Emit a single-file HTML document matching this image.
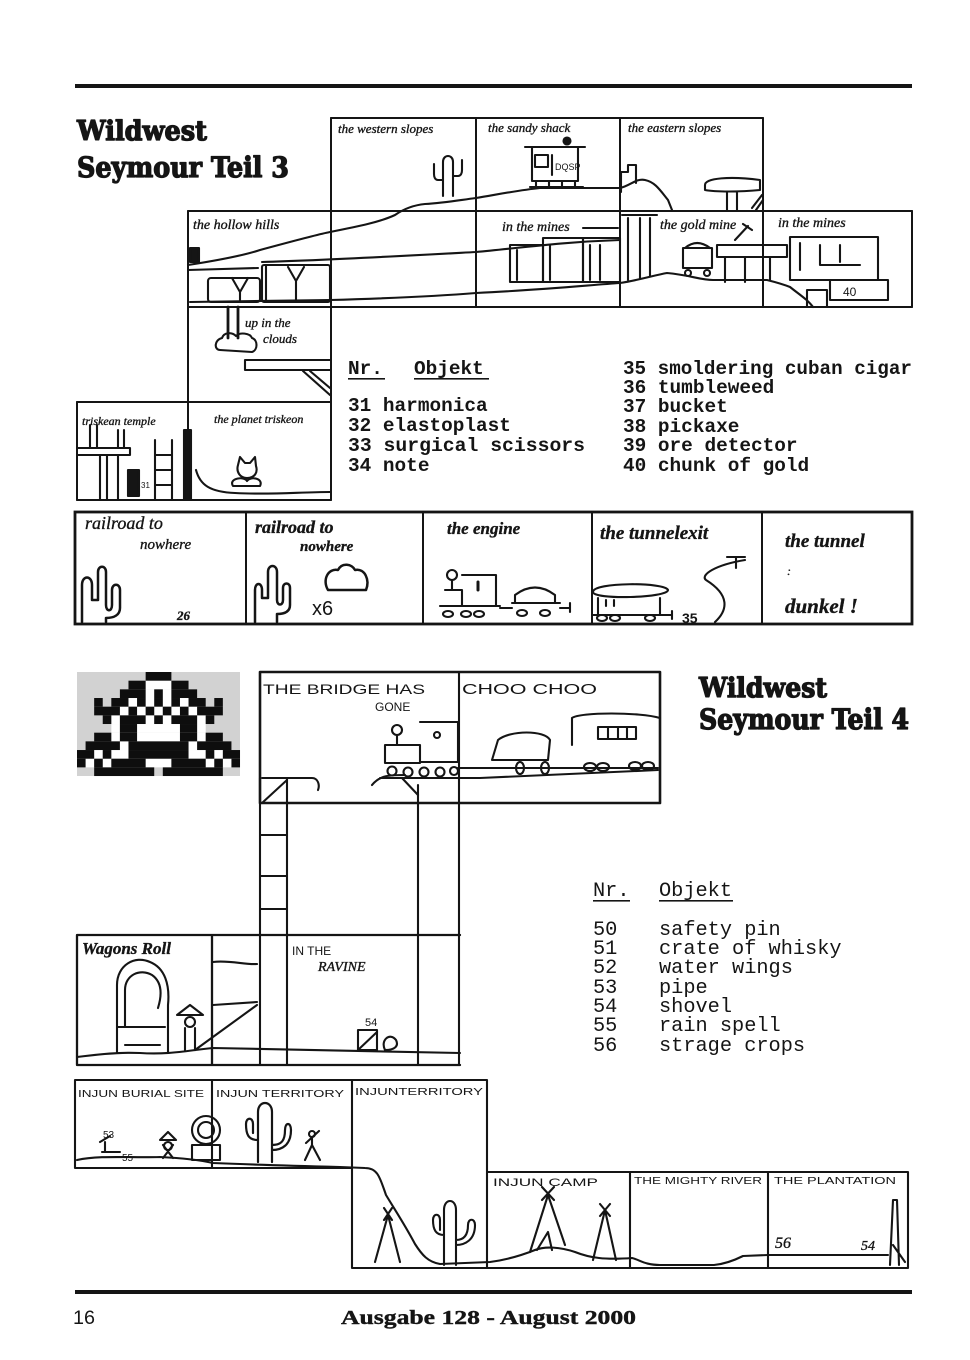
<!DOCTYPE html>
<html><head><meta charset="utf-8"><style>
html,body{margin:0;padding:0;background:#fff;}
svg{display:block;}
.h{font-family:"Liberation Serif",serif;font-style:italic;fill:#151515;stroke:#151515;stroke-width:0.35;}
.u{font-family:"Liberation Sans",sans-serif;fill:#151515;}
.m3{font-family:"Liberation Mono",monospace;font-weight:bold;font-size:19.4px;fill:#151515;}
.m4{font-family:"Liberation Mono",monospace;font-size:20.3px;fill:#151515;}
.t{font-family:"DejaVu Serif","Liberation Serif",serif;font-weight:bold;fill:#151515;stroke:#151515;stroke-width:1.3;stroke-linejoin:round;}
</style></head><body>
<svg width="970" height="1360" viewBox="0 0 970 1360" xmlns="http://www.w3.org/2000/svg">
<rect width="970" height="1360" fill="#fff"/>
<rect x="75" y="84" width="837" height="4" fill="#151515"/>
<rect x="75" y="1290" width="837" height="4" fill="#151515"/>

<text x="77" y="140" class="t" font-size="27" textLength="130" lengthAdjust="spacingAndGlyphs">Wildwest</text>
<text x="77" y="177" class="t" font-size="28" textLength="212" lengthAdjust="spacingAndGlyphs">Seymour Teil 3</text>
<text x="699" y="697" class="t" font-size="27" textLength="128" lengthAdjust="spacingAndGlyphs">Wildwest</text>
<text x="699" y="729" class="t" font-size="28" textLength="210" lengthAdjust="spacingAndGlyphs">Seymour Teil 4</text>

<text x="73" y="1324" class="u" font-size="19.5" textLength="22" lengthAdjust="spacingAndGlyphs">16</text>
<text x="341" y="1324" font-family="Liberation Serif,serif" font-weight="bold" font-size="20" fill="#151515" stroke="#151515" stroke-width="0.4" textLength="295" lengthAdjust="spacingAndGlyphs">Ausgabe 128 - August 2000</text>

<!-- Teil 3 list -->
<text x="348" y="374" class="m3">Nr.</text>
<text x="414" y="374" class="m3">Objekt</text>
<rect x="348" y="378" width="37" height="1.6" fill="#151515"/>
<rect x="414" y="378" width="75" height="1.6" fill="#151515"/>
<text x="348" y="411" class="m3">31 harmonica</text>
<text x="348" y="431" class="m3">32 elastoplast</text>
<text x="348" y="451" class="m3" textLength="237" lengthAdjust="spacingAndGlyphs">33 surgical scissors</text>
<text x="348" y="471" class="m3">34 note</text>
<text x="623" y="374" class="m3" textLength="289" lengthAdjust="spacingAndGlyphs">35 smoldering cuban cigar</text>
<text x="623" y="393" class="m3">36 tumbleweed</text>
<text x="623" y="412" class="m3">37 bucket</text>
<text x="623" y="432" class="m3">38 pickaxe</text>
<text x="623" y="451" class="m3">39 ore detector</text>
<text x="623" y="471" class="m3">40 chunk of gold</text>

<!-- Teil 4 list -->
<text x="593" y="896" class="m4">Nr.</text>
<text x="659" y="896" class="m4">Objekt</text>
<rect x="593" y="900" width="37" height="1.6" fill="#151515"/>
<rect x="659" y="900" width="74" height="1.6" fill="#151515"/>
<text x="593" y="935" class="m4">50</text><text x="659" y="935" class="m4">safety pin</text>
<text x="593" y="954" class="m4">51</text><text x="659" y="954" class="m4">crate of whisky</text>
<text x="593" y="973" class="m4">52</text><text x="659" y="973" class="m4">water wings</text>
<text x="593" y="993" class="m4">53</text><text x="659" y="993" class="m4">pipe</text>
<text x="593" y="1012" class="m4">54</text><text x="659" y="1012" class="m4">shovel</text>
<text x="593" y="1031" class="m4">55</text><text x="659" y="1031" class="m4">rain spell</text>
<text x="593" y="1051" class="m4">56</text><text x="659" y="1051" class="m4">strage crops</text>

<!-- ===== Teil 3 grid ===== -->
<g stroke="#151515" stroke-width="2" fill="none" stroke-linecap="round">
<path d="M331,118 H763 M188,211 H912 M188,307 H912 M77,402 H331 M77,500 H331"/>
<path d="M331,118 V500 M476,118 V307 M620,118 V307 M763,118 V307 M912,211 V307 M188,211 V500 M77,402 V500"/>
<rect x="75" y="512" width="837" height="112" stroke-width="2.8"/>
<path d="M246,512 V624 M423,512 V624 M592,512 V624 M762,512 V624"/>
</g>

<!-- Teil 3 drawings -->
<g stroke="#151515" stroke-width="2.1" fill="none" stroke-linecap="round" stroke-linejoin="round">
<path d="M443,196 V162 C443,154 453,154 453,162 V196 M443,180 H438 C435,180 434,177 434,174 V164 M453,176 H458 C461,176 462,173 462,170 V160"/>
<path d="M188,265 C220,260 245,255 260,250 C290,242 315,235 330,232 C360,226 380,222 395,215 C405,208 415,205 425,204 C445,203 460,200 476,198 C500,194 520,190 540,188 L620,188 C630,186 636,178 645,180 C655,182 660,190 668,200 L672,210"/>
<path d="M525,147 H585 M532,148 V181 H578 V148 M535,155 H548 V167 H535 Z M552,155 V175 M530,187 H583 M536,181 V187 M549,181 V187 M562,181 V187 M575,181 V187"/>
<circle cx="567" cy="141" r="3.5" fill="#151515"/>
<text x="555" y="170" class="u" font-size="9" stroke="none">DQSP</text>
<path d="M621,192 V172 H628 V165 H636 V183 M705,185 C705,178 730,176 760,180 L760,190 C740,192 715,192 705,190 Z M727,192 V210 M737,192 V210 M752,208 L762,195 M756,210 L763,200"/>
<path d="M188,270 L258,268 M262,262 C330,260 420,255 476,252 C520,248 560,242 620,240"/>
<path d="M190,302 L330,300 C400,298 440,296 476,293 C540,290 590,285 620,283 C640,280 655,275 667,273 C690,275 700,280 713,280 L767,280 C775,282 785,285 790,287 C800,295 808,300 813,307"/>
<rect x="208" y="278" width="52" height="24" rx="3"/>
<rect x="262" y="265" width="68" height="37" rx="2"/>
<path d="M232,278 L240,292 L248,278 M240,292 V300 M288,267 L296,281 L304,267 M296,281 V300 M266,265 V302"/>
<rect x="190" y="248" width="9" height="14" fill="#151515"/>
<rect x="510" y="245" width="33" height="37"/>
<rect x="543" y="238" width="40" height="44"/>
<rect x="583" y="238" width="37" height="44"/>
<path d="M517,250 V280 M550,245 V280 M590,245 V280 M600,245 V280 M583,228 H618"/>
<path d="M622,215 H657 M628,218 V280 M640,218 V278 M650,218 V276 M683,248 H712 V268 H683 Z M685,248 Q697,238 710,248 M717,245 H787 V257 H717 Z M725,257 V282 M745,257 V282 M770,257 V280 M735,240 L748,226 M743,224 L752,230"/>
<circle cx="688" cy="273" r="3"/><circle cx="707" cy="273" r="3"/>
<rect x="790" y="237" width="88" height="43"/>
<path d="M800,243 V270 M820,245 V265 H860 M840,245 V262"/>
<rect x="830" y="280" width="58" height="20"/>
<rect x="807" y="290" width="20" height="17"/>
<path d="M228,307 V338 M238,307 V338" stroke-width="2.8"/>
<path d="M220,350 C214,350 214,340 222,338 C224,332 232,332 236,336 C240,332 250,333 252,338 C258,340 258,350 252,352 Z"/>
<path d="M245,360 H330 M245,360 V370 H330 M303,371 L330,395 M310,371 L330,388"/>
<path d="M77,448 H130 V455 M77,455 H130 M100,455 V500 M107,455 V500 M118,455 V500 M90,425 V448 M97,425 V448 M118,430 V448 M124,430 V448 M155,440 V500 M172,440 V500 M155,455 H172 M155,470 H172 M155,485 H172"/>
<rect x="128" y="470" width="11" height="26" fill="#151515"/>
<rect x="184" y="430" width="7" height="70" fill="#151515"/>
<path d="M238,465 L240,457 L245,463 L250,463 L255,457 L256,466 C258,472 255,478 247,478 C240,478 236,472 238,465 Z M233,486 C228,478 245,476 247,481 C250,476 264,478 260,486 Z"/>
<path d="M196,470 C200,485 210,492 235,493 C270,495 300,492 330,492"/>
<path d="M82,622 L82,585 C82,575 92,575 92,585 L92,600 L98,600 L98,572 C98,565 106,565 106,572 L106,605 C106,612 112,612 112,605 L112,590 C112,583 120,583 120,590 L120,608 C120,615 114,618 106,618 L106,622" stroke-width="2.5"/>
<path d="M255,622 L255,590 C255,582 262,582 262,590 L262,598 L268,598 L268,572 C268,564 277,564 277,572 L277,600 C277,606 283,606 283,600 L283,588 C283,582 290,582 290,588 L290,605 C290,612 284,614 277,614 L277,622" stroke-width="2.5"/>
<path d="M328,590 C322,580 328,568 338,570 C342,562 352,564 355,570 C365,568 370,580 366,590 Z" stroke-width="2.5"/>
<circle cx="452" cy="575" r="5"/>
<path d="M452,580 V590 M445,590 H462 V605 M462,575 H496 V605 M440,606 H500 M500,608 H512 M512,603 H560 M515,603 V595 Q535,580 555,595 V603 M560,608 H570 M570,603 V612"/>
<path d="M478,582 V590" stroke-width="3"/>
<ellipse cx="448" cy="614" rx="5" ry="3"/><ellipse cx="466" cy="614" rx="5" ry="3"/><ellipse cx="479" cy="614" rx="5" ry="3"/>
<ellipse cx="522" cy="613" rx="5" ry="3"/><ellipse cx="545" cy="613" rx="5" ry="3"/>
<path d="M593,592 C593,582 665,582 668,590 C668,598 593,600 593,592 Z M598,598 V615 M660,598 V615 M592,615 H672 M672,611 V619 M606,600 V606 M614,600 V606 M745,560 C715,565 700,575 706,580 C730,595 728,610 715,622 M727,557 H745 M736,557 V568"/>
<ellipse cx="602" cy="618" rx="5" ry="3"/><ellipse cx="615" cy="618" rx="5" ry="3"/><ellipse cx="650" cy="618" rx="5" ry="3"/>
</g>

<!-- Teil 3 labels -->
<g>
<text x="338" y="133" font-size="13" class="h">the western slopes</text>
<text x="488" y="132" font-size="13" class="h">the sandy shack</text>
<text x="628" y="132" font-size="13" class="h">the eastern slopes</text>
<text x="193" y="229" font-size="14" class="h">the hollow hills</text>
<text x="502" y="231" font-size="14" class="h">in the mines</text>
<text x="660" y="229" font-size="14" class="h">the gold mine</text>
<text x="778" y="227" font-size="14" class="h">in the mines</text>
<text x="245" y="327" font-size="13" class="h">up in the</text>
<text x="263" y="343" font-size="13" class="h">clouds</text>
<text x="82" y="425" font-size="12" class="h">triskean temple</text>
<text x="214" y="423" font-size="12" class="h">the planet triskeon</text>
<text x="85" y="529" font-size="18" class="h">railroad to</text>
<text x="140" y="549" font-size="15" class="h">nowhere</text>
<text x="255" y="533" font-size="18" class="h" font-weight="bold">railroad to</text>
<text x="300" y="551" font-size="15" class="h" font-weight="bold">nowhere</text>
<text x="447" y="534" font-size="17" class="h" font-weight="bold">the engine</text>
<text x="600" y="539" font-size="19" class="h" font-weight="bold">the tunnelexit</text>
<text x="785" y="547" font-size="19" class="h" font-weight="bold">the tunnel</text>
<text x="787" y="575" font-size="12" class="h">:</text>
<text x="785" y="613" font-size="21" class="h" font-weight="bold">dunkel !</text>
<text x="177" y="620" font-size="13" class="h" font-weight="bold">26</text>
<text x="312" y="615" font-size="20" class="u">x6</text>
<text x="682" y="623" font-size="14" class="u" font-weight="bold">35</text>
<text x="843" y="296" font-size="12" class="u">40</text>
<text x="141" y="488" font-size="8" class="u">31</text>
</g>

<!-- ===== Teil 4 ===== -->
<rect x="77" y="672" width="163" height="104" fill="#d2d2d2"/>
<g transform="translate(77,672) scale(8.58,8.67)">
<g fill="#fff">
<rect x="8" y="1" width="3" height="1"/>
<rect x="8" y="2" width="1" height="1"/><rect x="10" y="2" width="1" height="1"/>
<rect x="6" y="3" width="1" height="1"/><rect x="8" y="3" width="1" height="1"/><rect x="10" y="3" width="1" height="1"/><rect x="12" y="3" width="1" height="1"/>
<rect x="5" y="4" width="1" height="1"/><rect x="7" y="4" width="1" height="1"/><rect x="9" y="4" width="1" height="1"/><rect x="11" y="4" width="1" height="1"/><rect x="13" y="4" width="1" height="1"/>
<rect x="4" y="5" width="1" height="1"/><rect x="8" y="5" width="1" height="1"/><rect x="10" y="5" width="1" height="1"/><rect x="14" y="5" width="1" height="1"/>
<rect x="4" y="6" width="1" height="1"/><rect x="7" y="6" width="5" height="1"/><rect x="14" y="6" width="1" height="1"/>
<rect x="4" y="7" width="1" height="1"/><rect x="7" y="7" width="5" height="1"/><rect x="14" y="7" width="1" height="1"/>
<rect x="5" y="8" width="1" height="1"/><rect x="13" y="8" width="1" height="1"/>
<rect x="2" y="9" width="1" height="1"/><rect x="4" y="9" width="2" height="1"/><rect x="13" y="9" width="2" height="1"/><rect x="16" y="9" width="1" height="1"/>
<rect x="1" y="10" width="1" height="1"/><rect x="3" y="10" width="1" height="1"/><rect x="8" y="10" width="3" height="1"/><rect x="15" y="10" width="1" height="1"/><rect x="17" y="10" width="1" height="1"/>
</g>
<g fill="#0e0e0e">
<rect x="8" y="0" width="3" height="1"/>
<rect x="6" y="1" width="2" height="1"/><rect x="11" y="1" width="2" height="1"/>
<rect x="5" y="2" width="3" height="1"/><rect x="9" y="2" width="1" height="1"/><rect x="11" y="2" width="3" height="1"/>
<rect x="2" y="3" width="1" height="1"/><rect x="4" y="3" width="2" height="1"/><rect x="7" y="3" width="1" height="1"/><rect x="9" y="3" width="1" height="1"/><rect x="11" y="3" width="1" height="1"/><rect x="13" y="3" width="2" height="1"/><rect x="16" y="3" width="1" height="1"/>
<rect x="2" y="4" width="3" height="1"/><rect x="6" y="4" width="1" height="1"/><rect x="8" y="4" width="1" height="1"/><rect x="10" y="4" width="1" height="1"/><rect x="12" y="4" width="1" height="1"/><rect x="14" y="4" width="3" height="1"/>
<rect x="3" y="5" width="1" height="1"/><rect x="5" y="5" width="3" height="1"/><rect x="9" y="5" width="1" height="1"/><rect x="11" y="5" width="3" height="1"/><rect x="15" y="5" width="1" height="1"/>
<rect x="5" y="6" width="2" height="1"/><rect x="12" y="6" width="2" height="1"/>
<rect x="2" y="7" width="2" height="1"/><rect x="5" y="7" width="2" height="1"/><rect x="12" y="7" width="2" height="1"/><rect x="15" y="7" width="2" height="1"/>
<rect x="1" y="8" width="4" height="1"/><rect x="6" y="8" width="7" height="1"/><rect x="14" y="8" width="4" height="1"/>
<rect x="0" y="9" width="2" height="1"/><rect x="3" y="9" width="1" height="1"/><rect x="6" y="9" width="7" height="1"/><rect x="15" y="9" width="1" height="1"/><rect x="17" y="9" width="2" height="1"/>
<rect x="0" y="10" width="1" height="1"/><rect x="2" y="10" width="1" height="1"/><rect x="4" y="10" width="4" height="1"/><rect x="11" y="10" width="4" height="1"/><rect x="16" y="10" width="1" height="1"/><rect x="18" y="10" width="1" height="1"/>
<rect x="2" y="11" width="7" height="1"/><rect x="10" y="11" width="7" height="1"/>
</g>
</g>

<g stroke="#151515" stroke-width="2.1" fill="none" stroke-linecap="round" stroke-linejoin="round">
<rect x="260" y="672" width="400" height="131" stroke-width="2.6"/>
<path d="M459,672 V1065 M418,785 V1065 M260,778 V1065 M287,778 V1065 M260,835 H287 M260,876 H287 M260,909 H287"/>
<path d="M77,935 H460 M77,935 V1065 H460 M212,935 V1065" stroke-width="2.3"/>
<path d="M262,778 H312 C318,778 320,785 318,790 M262,803 L287,780"/>
<circle cx="397" cy="730" r="5"/>
<path d="M397,735 V745 M385,745 H420 V763 H385 Z M420,722 H458 V762 H420 M380,778 H480 L658,770 M492,760 L498,740 C510,730 545,730 550,740 L548,760 Z M572,718 C580,712 640,712 660,718 M572,718 V745 M598,727 H636 V739 H598 Z M608,727 V739 M618,727 V739 M627,727 V739 M372,785 C380,775 390,775 405,775 M402,778 L418,795 M458,768 H658"/>
<circle cx="437" cy="735" r="3"/>
<circle cx="392" cy="771" r="4.5"/><circle cx="408" cy="772" r="4.5"/><circle cx="424" cy="772" r="4.5"/><circle cx="440" cy="772" r="4.5"/><circle cx="454" cy="771" r="4"/>
<ellipse cx="520" cy="768" rx="4" ry="6"/><ellipse cx="545" cy="768" rx="4" ry="6"/><ellipse cx="590" cy="767" rx="6" ry="4"/><ellipse cx="603" cy="767" rx="6" ry="4"/><ellipse cx="635" cy="766" rx="6" ry="4"/><ellipse cx="648" cy="766" rx="6" ry="4"/>
<path d="M117,1053 V985 C117,965 135,955 150,962 C165,968 170,985 168,1005 V1053 M125,1027 V990 C125,975 140,968 152,975 C162,982 162,995 158,1008 M117,1027 H165 M125,1045 H160"/>
<path d="M177,1015 L190,1005 L203,1015 Z M185,1028 V1050 M195,1028 V1050"/>
<circle cx="190" cy="1022" r="5"/>
<path d="M195,1050 L257,1005 M213,1005 L257,1002 M213,962 C230,960 245,965 257,964"/>
<rect x="358" y="1030" width="19" height="20"/>
<path d="M358,1050 L377,1032 M385,1050 C380,1040 390,1032 396,1040 C399,1046 395,1050 385,1050 Z"/>
<path d="M77,1057 C100,1054 120,1052 140,1053 C170,1055 190,1050 213,1048 L460,1053"/>
<path d="M75,1080 H487 M75,1080 V1168 M212,1080 V1168 M352,1080 V1268 M487,1080 V1268 M75,1168 H352 M487,1172 H908 M630,1172 V1268 M768,1172 V1268 M908,1172 V1268 M352,1268 H908"/>
<path d="M77,1160 C100,1155 130,1158 160,1157 C180,1158 200,1160 213,1163 C260,1165 300,1166 340,1167 L365,1168 C378,1168 380,1178 386,1195 C395,1210 405,1225 415,1244 C422,1255 428,1262 440,1264 L490,1262 C505,1260 520,1256 535,1250 C545,1246 560,1247 575,1252 C590,1258 605,1260 632,1258 C640,1260 645,1265 660,1265 L714,1265 C725,1264 735,1260 743,1256 L768,1255 L888,1255 M890,1265 L893,1200 L897,1200 L899,1265 M893,1245 L905,1262"/>
<path d="M100,1142 L110,1136 M102,1152 H120 M105,1152 V1142 M160,1140 L168,1132 L176,1140 Z M163,1145 L173,1158 M173,1145 L163,1158 M192,1145 H220 V1160 H192 Z"/>
<circle cx="168" cy="1146" r="4"/>
<circle cx="206" cy="1130" r="14"/><circle cx="206" cy="1130" r="8"/>
<path d="M258,1162 V1112 C258,1100 272,1100 272,1112 V1162 M258,1140 C248,1140 246,1134 246,1124 C246,1117 253,1117 253,1124 V1133 M272,1145 C282,1145 285,1140 285,1130 C285,1122 291,1122 291,1130 C291,1145 282,1150 272,1150" stroke-width="2.2"/>
<path d="M305,1160 L312,1145 L320,1160 M312,1145 V1137 M306,1143 L319,1131"/>
<circle cx="312" cy="1134" r="3"/>
<path d="M444,1265 V1210 C444,1198 456,1198 456,1210 V1265 M444,1235 C436,1235 433,1230 433,1220 C433,1213 440,1213 440,1220 V1230 M456,1240 C464,1240 468,1235 468,1225 C468,1218 475,1218 475,1225 C475,1240 465,1245 456,1245"/>
<path d="M375,1262 L388,1215 L400,1262 M384,1208 L392,1220 M392,1208 L384,1220 M530,1252 L548,1195 L565,1245 M542,1187 L554,1200 M554,1187 L542,1200 M537,1250 L548,1232 L552,1250 M593,1260 L605,1210 L616,1260 M600,1204 L610,1216 M610,1204 L600,1216"/>
</g>

<!-- Teil 4 labels -->
<g>
<text x="263" y="694" class="u" font-size="14" textLength="162" lengthAdjust="spacingAndGlyphs">THE BRIDGE HAS</text>
<text x="375" y="711" class="u" font-size="12">GONE</text>
<text x="462" y="694" class="u" font-size="15" textLength="135" lengthAdjust="spacingAndGlyphs">CHOO CHOO</text>
<text x="82" y="954" class="h" font-size="17" font-weight="bold">Wagons Roll</text>
<text x="292" y="955" class="u" font-size="12">IN THE</text>
<text x="318" y="971" class="h" font-size="14">RAVINE</text>
<text x="365" y="1026" class="u" font-size="11">54</text>
<text x="78" y="1097" class="u" font-size="10" textLength="126" lengthAdjust="spacingAndGlyphs">INJUN BURIAL SITE</text>
<text x="216" y="1097" class="u" font-size="10" textLength="128" lengthAdjust="spacingAndGlyphs">INJUN TERRITORY</text>
<text x="355" y="1095" class="u" font-size="10" textLength="128" lengthAdjust="spacingAndGlyphs">INJUNTERRITORY</text>
<text x="103" y="1138" class="u" font-size="10">53</text>
<text x="122" y="1161" class="u" font-size="10">55</text>
<text x="493" y="1186" class="u" font-size="11" textLength="105" lengthAdjust="spacingAndGlyphs">INJUN CAMP</text>
<text x="634" y="1184" class="u" font-size="10" textLength="128" lengthAdjust="spacingAndGlyphs">THE MIGHTY RIVER</text>
<text x="774" y="1184" class="u" font-size="10" textLength="122" lengthAdjust="spacingAndGlyphs">THE PLANTATION</text>
<text x="775" y="1248" class="h" font-size="16">56</text>
<text x="861" y="1250" class="h" font-size="14">54</text>
</g>
</svg>
</body></html>
